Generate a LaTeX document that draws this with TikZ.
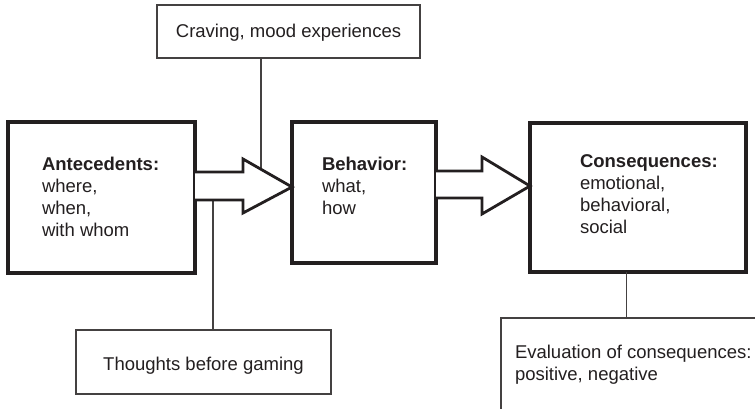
\documentclass[tikz,border=0pt]{standalone}
\usepackage{fontspec}
\setmainfont{Liberation Sans}
\usetikzlibrary{calc}
\definecolor{ink}{HTML}{231F20}
% a stack of lines whose reference point is the baseline of its first line
\newcommand{\toplines}[1]{\vtop{\lineskiplimit=0pt\baselineskip=22pt #1}}
\begin{document}
\begin{tikzpicture}[x=1pt,y=-1pt,
  every node/.style={inner sep=0pt,outer sep=0pt},
  mainbox/.style={draw=ink,line width=3.2pt,fill=white},
  notebox/.style={draw=ink!85,line width=1.1pt,fill=white},
  txt/.style={anchor=base west,text=ink,font=\fontsize{18.5}{22}\selectfont},
  ctxt/.style={anchor=base,text=ink,font=\fontsize{18.5}{22}\selectfont},
  link/.style={draw=ink!85,line width=1.1pt},
  bigarrow/.style={draw=ink,line width=2.8pt,fill=white,line join=miter,miter limit=10}]
\useasboundingbox (0,0) rectangle (755,408);
\clip (0,0) rectangle (755,408);

% the three stages
\node[mainbox,minimum width=187pt,minimum height=151pt] (ante) at (101.5,197.5) {};
\node[mainbox,minimum width=144pt,minimum height=141pt] (beh) at (364,192.5) {};
\node[mainbox,minimum width=216pt,minimum height=149pt] (cons) at (638,197.5) {};

\node[txt] (antetext) at (42,170) {\toplines{\hbox{\textbf{Antecedents:}}\hbox{where,}\hbox{when,}\hbox{with whom}}};
\node[txt] (behtext) at (322,170) {\toplines{\hbox{\textbf{Behavior:}}\hbox{what,}\hbox{how}}};
\node[txt] (constext) at (580,167) {\toplines{\hbox{\textbf{Consequences:}}\hbox{emotional,}\hbox{behavioral,}\hbox{social}}};

% side notes
\node[notebox,minimum width=263pt,minimum height=53pt] (crave) at (288.5,31.5) {};
\node[ctxt] (cravetext) at (crave.center |- 0,37) {Craving, mood experiences};
\node[notebox,minimum width=255pt,minimum height=64pt] (thought) at (203.5,362) {};
\node[ctxt] (thoughttext) at (thought.center |- 0,370) {Thoughts before gaming};
\node[notebox,anchor=north west,minimum width=300pt,minimum height=130pt] (evalbox) at (501,318) {};
\node[txt] (evaltext) at (515,358) {\toplines{\hbox{Evaluation of consequences:}\hbox{positive, negative}}};

% arrow outlines
\coordinate (a1up) at (261,169.3);
\coordinate (a1low) at (213,200);
\coordinate (c1low) at (626.5,272);

% links from the notes
\draw[link] (a1up |- crave.south) -- (a1up);
\draw[link] (a1low) -- (a1low |- thought.north);
\draw[link] (c1low) -- (c1low |- evalbox.north);

% block arrows between the stages
\draw[bigarrow] (ante.east |- 0,172) -- (243,172) -- (243,159) -- (beh.west |- 0,187)
  -- (243,213) -- (243,200) -- (ante.east |- 0,200);
\draw[bigarrow] (beh.east |- 0,171) -- (482,171) -- (482,157) -- (cons.west |- 0,186)
  -- (482,214) -- (482,198) -- (beh.east |- 0,198);
\end{tikzpicture}
\end{document}
